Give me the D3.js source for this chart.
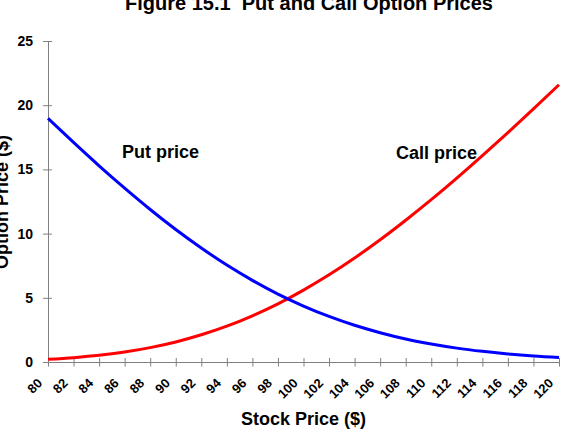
<!DOCTYPE html>
<html>
<head>
<meta charset="utf-8">
<script src="https://cdn.jsdelivr.net/npm/d3@7"></script>
<style>
  html, body { margin: 0; padding: 0; background: #fff; }
  svg { display: block; font-family: "Liberation Sans", Arial, sans-serif; }
</style>
</head>
<body>
<svg id="chart" width="565" height="435"></svg>
<script>
const stockPrices = [80, 82, 84, 86, 88, 90, 92, 94, 96, 98, 100, 102, 104, 106, 108, 110, 112, 114, 116, 118, 120];
const putPrices  = [18.97, 17.10, 15.28, 13.54, 11.88, 10.32, 8.88, 7.55, 6.36, 5.29, 4.36, 3.55, 2.86, 2.28, 1.79, 1.40, 1.08, 0.83, 0.63, 0.47, 0.35];
const callPrices = [0.21, 0.34, 0.52, 0.78, 1.12, 1.56, 2.12, 2.79, 3.60, 4.53, 5.60, 6.79, 8.10, 9.52, 11.04, 12.64, 14.32, 16.07, 17.87, 19.71, 21.59];
const yTicks = [0, 5, 10, 15, 20, 25];
const titleText = "Figure 15.1  Put and Call Option Prices";
const xTitle = "Stock Price ($)";
const yTitle = "Option Price ($)";
const seriesLabels = ["Put price", "Call price"];

const svg = d3.select("#chart");
const x = d3.scaleLinear().domain([80, 120]).range([48, 559]);
const y = d3.scaleLinear().domain([0, 25]).range([362, 41]);
const axisColor = "#808080";

// Title
svg.append("text")
  .attr("x", 309).attr("y", 10)
  .attr("text-anchor", "middle")
  .style("white-space", "pre")
  .attr("font-size", 20).attr("font-weight", "bold")
  .text(titleText);

// X axis
const gx = svg.append("g")
  .attr("transform", `translate(0,${y(0)})`)
  .call(d3.axisBottom(x).tickValues(stockPrices).tickSizeOuter(0).tickSizeInner(4.5).tickFormat(d3.format("d")));
gx.select(".domain").attr("stroke", axisColor);
gx.selectAll(".tick line").attr("stroke", axisColor).attr("y1", -4).attr("y2", 4.5);
gx.selectAll(".tick text")
  .attr("y", 0).attr("dy", 0)
  .attr("text-anchor", "end")
  .attr("transform", "translate(-5.5,22) rotate(-45)")
  .attr("font-size", 13).attr("font-weight", "bold")
  .attr("font-family", "Liberation Sans, Arial, sans-serif")
  .attr("fill", "#000");

// Y axis
const gy = svg.append("g")
  .attr("transform", `translate(${x(80)},0)`)
  .call(d3.axisLeft(y).tickValues(yTicks).tickSizeOuter(0).tickSizeInner(5).tickPadding(10));
gy.select(".domain").attr("stroke", axisColor);
gy.selectAll(".tick line").attr("stroke", axisColor).attr("x1", 4).attr("x2", -5);
gy.selectAll(".tick text")
  .attr("font-size", 14).attr("font-weight", "bold")
  .attr("font-family", "Liberation Sans, Arial, sans-serif")
  .attr("fill", "#000");

// Axis titles
svg.append("text")
  .attr("x", 303.5).attr("y", 425)
  .attr("text-anchor", "middle")
  .attr("font-size", 18).attr("font-weight", "bold")
  .text(xTitle);
svg.append("text")
  .attr("transform", "translate(7.5,202) rotate(-90)")
  .attr("text-anchor", "middle")
  .attr("font-size", 18).attr("font-weight", "bold")
  .text(yTitle);

// Lines
const line = vals => d3.line()
  .x((d, i) => x(stockPrices[i]))
  .y(d => y(d))
  .curve(d3.curveMonotoneX)(vals);

svg.append("path")
  .attr("d", line(callPrices))
  .attr("fill", "none").attr("stroke", "#ff0000").attr("stroke-width", 3);
svg.append("path")
  .attr("d", line(putPrices))
  .attr("fill", "none").attr("stroke", "#0000ff").attr("stroke-width", 3);

// Series labels
svg.append("text")
  .attr("x", 122).attr("y", 157.5)
  .attr("font-size", 18).attr("font-weight", "bold")
  .text(seriesLabels[0]);
svg.append("text")
  .attr("x", 396).attr("y", 158.5)
  .attr("font-size", 18).attr("font-weight", "bold")
  .text(seriesLabels[1]);
</script>
</body>
</html>
